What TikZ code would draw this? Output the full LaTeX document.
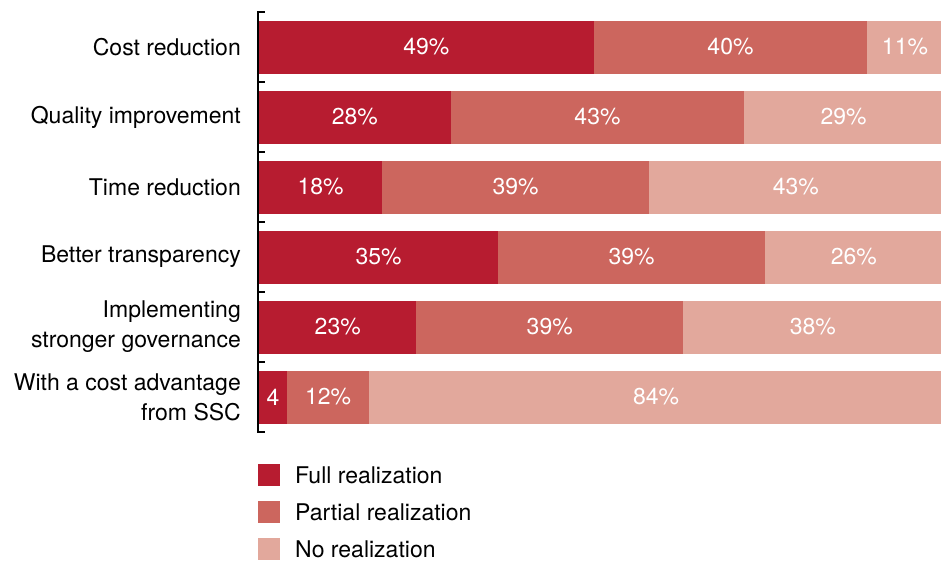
\documentclass[tikz,border=0pt]{standalone}
\usepackage{fontspec}
\setmainfont{TeX Gyre Heros}
\definecolor{fullred}{RGB}{183,28,48}
\definecolor{partred}{RGB}{204,102,94}
\definecolor{nored}{RGB}{226,168,156}

\begin{document}
\begin{tikzpicture}[x=1pt, y=-1pt, font=\fontsize{23}{30}\selectfont,
	seg/.style={anchor=west, inner sep=0pt, minimum height=52pt, text=white, line width=0.6pt},
	fullbar/.style={seg, fill=fullred, draw=fullred},
	partbar/.style={seg, fill=partred, draw=partred},
	nobar/.style={seg, fill=nored, draw=nored},
	legbox/.style={minimum size=22pt, inner sep=0pt}]
	\useasboundingbox (0,0) rectangle (941,566);
	
	% axis with ticks
	\coordinate (axtop) at (258,12);
	\coordinate (axbot) at (258,432);
	\draw[line width=2pt] (axtop) -- (axbot);
	\foreach \t in {12,82,...,432}
		\draw[line width=2pt] (257,\t) -- (265,\t);
	
	% bars
	\foreach \i/\yc/\a/\b/\c/\ta/\lab in {
		1/47/49/40/11/49\%/{Cost reduction},
		2/117/28/43/29/28\%/{Quality improvement},
		3/187/18/39/43/18\%/{Time reduction},
		4/257/35/39/26/35\%/{Better transparency},
		5/327/23/39/38/23\%/{Implementing\\stronger governance},
		6/397/4/12/84/4/{With a cost advantage\\from SSC}}
	{
		\node[fullbar, minimum width=6.82*\a pt] (full\i) at (259,\yc) {\ta};
		\node[partbar, minimum width=6.82*\b pt] (part\i) at (full\i.east) {\b\%};
		\node[nobar, minimum width=6.82*\c pt] (no\i) at (part\i.east) {\c\%};
		\node[anchor=east, align=right, inner sep=0pt] (lab\i) at (241,\yc) {\lab};
	}
	
	% legend
	\node[legbox, fill=fullred] (legfull) at (269,475) {};
	\node[legbox, fill=partred] (legpart) at (269,512) {};
	\node[legbox, fill=nored] (legno) at (269,549) {};
	\node[anchor=west, inner sep=0pt] at (295,475) {Full realization};
	\node[anchor=west, inner sep=0pt] at (295,512) {Partial realization};
	\node[anchor=west, inner sep=0pt] at (295,549) {No realization};
\end{tikzpicture}
\end{document}
